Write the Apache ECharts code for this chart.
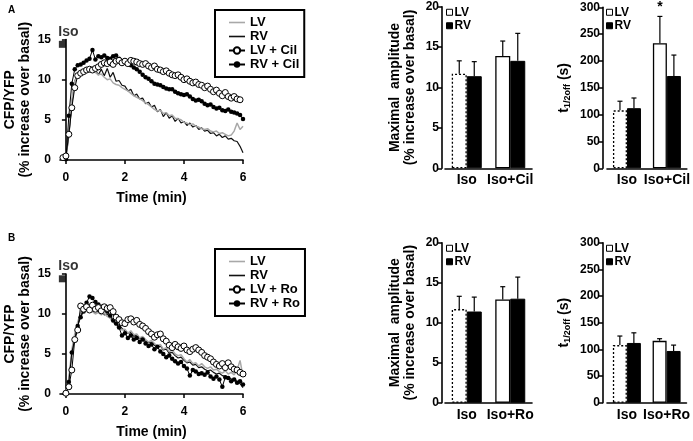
<!DOCTYPE html>
<html><head><meta charset="utf-8">
<script src="https://cdn.jsdelivr.net/npm/echarts@6/dist/echarts.min.js"></script>
<style>html,body{margin:0;padding:0;background:#fff}#c{width:693px;height:441px}</style>
</head><body><div id="c"></div><script>
// ---------- data ----------
const time = [-0.1,0,0.1,0.2,0.3,0.4,0.5,0.6,0.7,0.8,0.9,1.0,1.1,1.2,1.3,1.4,1.5,1.6,1.7,1.8,1.9,2.0,2.1,2.2,2.3,2.4,2.5,2.6,2.7,2.8,2.9,3.0,3.1,3.2,3.3,3.4,3.5,3.6,3.7,3.8,3.9,4.0,4.1,4.2,4.3,4.4,4.5,4.6,4.7,4.8,4.9,5.0,5.1,5.2,5.3,5.4,5.5,5.6,5.7,5.8,5.9,6.0];
const timeTicks = [0,2,4,6];
// Panel A
const aLV = [0.2,0.3,3.5,7.5,9.8,10.4,10.6,10.8,11.0,11.1,11.0,10.9,10.6,10.7,10.3,10.0,10.1,9.6,9.4,9.3,9.0,8.8,8.6,8.3,8.0,7.8,7.6,7.4,7.1,6.9,6.6,6.3,6.1,6.2,5.8,5.9,5.5,5.6,5.2,5.1,5.0,4.7,4.6,4.4,4.5,4.2,4.1,3.9,3.8,3.9,3.6,3.5,3.6,3.3,3.4,3.2,3.0,3.1,3.6,4.6,3.8,4.2];
const aRV = [0.2,0.2,3.0,7.0,9.8,10.8,11.0,11.2,11.1,11.3,10.9,11.2,10.6,11.3,10.5,11.4,10.3,10.9,9.8,9.9,9.3,9.2,8.6,8.8,8.0,8.2,7.6,7.7,7.0,7.2,6.6,6.8,6.0,6.3,5.4,5.9,5.2,5.5,4.8,5.2,4.6,4.8,4.3,4.6,4.1,4.3,3.8,4.0,3.6,3.7,3.3,3.4,3.0,3.2,2.8,3.0,2.6,2.7,2.4,2.3,1.7,0.9];
const aLVCil = [0.3,0.5,3.2,6.5,9.0,10.5,10.8,11.0,11.2,11.3,11.2,11.4,11.6,11.9,12.1,12.0,12.2,11.9,12.3,12.4,12.1,12.3,12.0,12.4,12.3,12.2,12.0,11.9,12.0,11.7,11.5,11.7,11.3,11.2,11.0,11.1,10.8,10.6,10.5,10.6,10.3,10.0,10.1,9.8,9.6,9.7,9.4,9.3,9.0,9.2,8.8,8.5,8.7,8.3,8.0,8.4,7.9,7.7,7.9,7.6,7.5,null];
const aRVCil = [null,0.1,5.5,9.5,11.3,11.8,11.9,12.1,12.4,12.6,13.7,12.5,12.9,12.8,13.0,12.7,12.6,12.9,13.0,12.6,12.3,12.4,12.0,11.8,11.5,11.3,11.0,10.6,10.3,10.1,9.8,9.5,9.4,9.3,9.1,8.9,8.8,8.8,8.5,8.3,8.2,8.1,8.2,7.9,7.6,7.4,7.5,7.3,7.0,6.8,6.9,6.6,6.4,6.5,6.2,6.1,6.3,6.0,5.9,5.8,5.6,5.1];
// Panel B
const bLV = [0.1,0.3,2.0,5.5,7.5,9.0,10.2,10.6,10.5,10.7,10.3,10.0,10.2,9.9,10.1,9.7,9.5,9.0,8.6,8.3,8.0,8.1,7.6,7.9,7.4,7.5,7.0,7.2,6.8,6.5,6.7,6.3,6.0,6.2,5.6,5.8,5.3,5.5,5.0,4.8,4.9,4.4,4.0,4.3,3.8,3.9,3.5,3.8,3.4,3.2,3.4,3.0,3.1,2.8,2.6,2.9,2.5,2.7,2.4,3.0,4.2,2.2];
const bRV = [0.1,0.2,1.8,5.0,7.2,8.8,9.8,10.5,10.9,11.0,10.8,10.6,10.3,10.4,9.9,10.0,9.5,9.2,8.8,8.6,8.2,7.9,7.6,7.7,7.2,7.4,6.9,7.0,6.6,6.4,6.5,6.1,5.8,6.0,5.5,5.6,5.1,5.2,4.8,4.5,4.6,4.2,3.9,4.0,3.6,3.7,3.3,3.4,3.1,2.9,3.0,2.7,2.5,2.6,2.3,2.2,2.1,1.9,1.8,1.6,1.3,0.8];
const bLVRo = [null,0.1,0.9,3.0,6.8,8.0,11.0,10.6,10.9,10.5,11.1,10.6,10.8,10.4,10.9,10.7,10.8,10.3,9.6,9.3,8.9,8.8,9.3,9.4,9.0,9.2,8.7,8.5,8.2,7.8,7.5,7.1,7.4,7.5,6.9,6.6,6.1,5.8,6.2,5.9,5.7,6.0,5.5,5.3,5.6,5.8,5.5,5.2,4.8,4.6,4.4,4.0,3.7,3.5,3.8,3.3,3.9,3.4,3.1,3.0,2.7,2.5];
const bRVRo = [null,null,1.5,5.2,6.8,8.5,9.6,10.3,11.4,12.2,12.0,11.5,11.2,10.9,10.6,10.3,9.8,9.2,8.8,8.3,7.3,7.6,7.0,7.3,6.8,7.0,6.5,6.8,6.3,6.0,6.2,5.6,5.9,5.3,5.0,4.6,4.8,4.4,4.1,3.8,4.0,3.5,3.2,2.3,3.0,2.8,2.5,2.6,2.4,2.7,2.2,1.9,2.2,1.8,0.9,2.1,2.0,1.6,1.8,1.4,1.6,1.2];
const isoMark = [-0.12, 14.4];
// Bars
const catsA = ['Iso','Iso+Cil'];
const catsB = ['Iso','Iso+Ro'];
const ampA_LV = [11.7,13.9], ampA_LVerr = [1.6,1.85];
const ampA_RV = [11.4,13.3], ampA_RVerr = [1.8,3.4];
const tA_LV = [108,233], tA_LVerr = [17,50];
const tA_RV = [112,172], tA_RVerr = [19,39];
const sigA = ['','*'];
const ampB_LV = [11.7,12.9], ampB_LVerr = [1.6,1.6];
const ampB_RV = [11.4,13.0], ampB_RVerr = [1.8,2.7];
const tB_LV = [108,116], tB_LVerr = [17,4];
const tB_RV = [112,97], tB_RVerr = [19,11];
const sigB = ['',''];

// ---------- helpers ----------
const FF = 'Liberation Sans, Arial, Helvetica, sans-serif';
const B = 'bold';
const pairs = (ys) => time.map((t,i)=>[t, ys[i]]);
const axisLineS = {show:true, lineStyle:{color:'#000', width:1.6}};
const tickS = {show:true, length:4, lineStyle:{color:'#000', width:1.5}};
const LINE_ICON = 'path://M0,0H16V1.6H0Z';

const chart = echarts.init(document.getElementById('c'), null, {renderer:'canvas'});

const grids = [
  {left:60, right:450, top:39.5, bottom:281},      // 0 line A
  {left:60, right:450, top:274, bottom:47},        // 1 line B
  {left:445, right:161, top:6.7, bottom:272.7},    // 2 amp A
  {left:607, right:6, top:7.3, bottom:272.7},      // 3 t A
  {left:445, right:161, top:242.7, bottom:38.3},   // 4 amp B
  {left:607, right:6, top:242.7, bottom:38.3}      // 5 t B
];

function lineX(gi){
  return {type:'value', gridIndex:gi, min:-0.2, max:6, offset:7,
    axisLine:axisLineS, axisTick:Object.assign({customValues:timeTicks}, tickS),
    axisLabel:{customValues:timeTicks, color:'#000', fontFamily:FF, fontWeight:B, fontSize:12, margin:5},
    splitLine:{show:false},
    name:'Time (min)', nameLocation:'middle', nameGap:24,
    nameTextStyle:{color:'#000', fontFamily:FF, fontWeight:B, fontSize:14}};
}
function lineY(gi){
  return {type:'value', gridIndex:gi, min:0, max:15, interval:5, offset:5,
    axisLine:axisLineS, axisTick:tickS,
    axisLabel:{color:'#000', fontFamily:FF, fontWeight:B, fontSize:12, margin:4},
    splitLine:{show:false},
    name:'CFP/YFP\n(% increase over basal)', nameLocation:'middle', nameRotate:90, nameGap:22,
    nameTextStyle:{color:'#000', fontFamily:FF, fontWeight:B, fontSize:14, lineHeight:15}};
}
function barX(gi, cats){
  return {type:'category', gridIndex:gi, data:cats,
    axisLine:axisLineS, axisTick:{show:false},
    axisLabel:{interval:0, hideOverlap:false, color:'#000', fontFamily:FF, fontWeight:B, fontSize:14, margin:5}};
}
function barY(gi, max, interval, offset, name, gap){
  return {type:'value', gridIndex:gi, min:0, max:max, interval:interval, offset:offset,
    axisLine:axisLineS, axisTick:tickS,
    axisLabel:{color:'#000', fontFamily:FF, fontWeight:B, fontSize:12, margin:3},
    splitLine:{show:false},
    name:name, nameLocation:'middle', nameRotate:90, nameGap:gap,
    nameTextStyle:{color:'#000', fontFamily:FF, fontWeight:B, fontSize:14, lineHeight:15,
      rich:{sub:{fontFamily:FF, fontWeight:B, fontSize:9, color:'#000', padding:[7,0,0,0]}}}};
}

function lineSeries(gi, prefix, d){
  const [lv, rv, lvd, rvd, dn] = d;
  return [
    {name:prefix+':RV', type:'line', xAxisIndex:gi, yAxisIndex:gi, data:pairs(rv), symbol:'none',
      lineStyle:{color:'#111', width:1.2}, itemStyle:{color:'#111'}, z:2},
    {name:prefix+':LV', type:'line', xAxisIndex:gi, yAxisIndex:gi, data:pairs(lv), symbol:'none',
      lineStyle:{color:'#a8a8a8', width:1.5}, itemStyle:{color:'#a8a8a8'}, z:3},
    {name:prefix+':RV + '+dn, type:'line', xAxisIndex:gi, yAxisIndex:gi, data:pairs(rvd), symbol:'circle', symbolSize:4.5,
      lineStyle:{color:'#000', width:1}, itemStyle:{color:'#000'}, z:4},
    {name:prefix+':LV + '+dn, type:'line', xAxisIndex:gi, yAxisIndex:gi, data:pairs(lvd), symbol:'circle', symbolSize:6,
      lineStyle:{color:'#000', width:1}, itemStyle:{color:'#fff', borderColor:'#000', borderWidth:1}, z:5},
    {name:prefix+':iso', type:'scatter', xAxisIndex:gi, yAxisIndex:gi, data:[isoMark], symbol:'rect', symbolSize:7,
      itemStyle:{color:'#000'}, z:6,
      label:{show:true, formatter:'Iso', position:'top', offset:[6,3], color:'#000', fontFamily:FF, fontWeight:B, fontSize:14}}
  ];
}

function barSeries(gi, prefix, lv, rv, bw){
  const lvData = lv.map((v,i)=> i===0 ? {value:v, itemStyle:{borderType:[2,2]}} : v);
  return [
    {name:prefix+':LV', type:'bar', xAxisIndex:gi, yAxisIndex:gi, data:lvData, barWidth:bw, barGap:'0%',
      itemStyle:{color:'#fff', borderColor:'#000', borderWidth:1.3}},
    {name:prefix+':RV', type:'bar', xAxisIndex:gi, yAxisIndex:gi, data:rv, barWidth:bw, barGap:'0%',
      itemStyle:{color:'#000', borderColor:'#000', borderWidth:1}}
  ];
}
function errSeries(gi, vals, errs, side, bw, sig){
  return {type:'custom', xAxisIndex:gi, yAxisIndex:gi, z:1, silent:true,
    data: vals.map((v,i)=>[i, v, errs[i]]),
    renderItem:(params, api)=>{
      const i = api.value(0), v = api.value(1), e = api.value(2);
      const p0 = api.coord([i, v]), p1 = api.coord([i, v+e]);
      const x = p0[0] + side*bw/2;
      const ch = [
        {type:'line', shape:{x1:x, y1:p0[1], x2:x, y2:p1[1]}, style:{stroke:'#000', lineWidth:1.2}},
        {type:'line', shape:{x1:x-2.5, y1:p1[1], x2:x+2.5, y2:p1[1]}, style:{stroke:'#000', lineWidth:1.2}}
      ];
      if (sig && sig[i]) ch.push({type:'text', style:{text:sig[i], x:x, y:p1[1]-2, align:'center', verticalAlign:'bottom',
        fill:'#000', font:'bold 14px '+FF}});
      return {type:'group', children:ch};
    }};
}

function lineLegend(prefix, dn, top){
  return {show:true, orient:'vertical', left:215, top:top,
    data:[{name:prefix+':LV', icon:LINE_ICON}, {name:prefix+':RV', icon:LINE_ICON}, prefix+':LV + '+dn, prefix+':RV + '+dn],
    formatter:(n)=>n.split(':')[1],
    itemWidth:16, itemHeight:8, itemGap:1, padding:[6,5,6,13],
    borderColor:'#000', borderWidth:2,
    textStyle:{color:'#000', fontFamily:FF, fontWeight:B, fontSize:13, lineHeight:12}};
}
function barLegend(prefix, left, top){
  return {show:true, orient:'vertical', left:left, top:top,
    data:[prefix+':LV', prefix+':RV'], formatter:(n)=>n.split(':')[1],
    icon:'rect', itemWidth:6, itemHeight:6, itemGap:1, padding:0,
    itemStyle:{borderWidth:1},
    textStyle:{color:'#000', fontFamily:FF, fontWeight:B, fontSize:12, lineHeight:12.5, padding:[0,0,0,-3]}};
}

const tName = 't{sub|1/2off} (s)';
const ampName = 'Maximal  amplitude\n(% increase over basal)';

const option = {
  animation:false,
  backgroundColor:'#fff',
  textStyle:{fontFamily:FF},
  grid:grids,
  xAxis:[lineX(0), lineX(1), barX(2,catsA), barX(3,catsA), barX(4,catsB), barX(5,catsB)],
  yAxis:[lineY(0), lineY(1),
    barY(2,20,5,3,ampName,24), barY(3,300,50,4,tName,31),
    barY(4,20,5,3,ampName,24), barY(5,300,50,4,tName,31)],
  legend:[lineLegend('A','Cil',10), lineLegend('B','Ro',249),
    barLegend('aA',446,6), barLegend('tA',606,6), barLegend('aB',446,242), barLegend('tB',606,242)],
  series:[].concat(
    lineSeries(0,'A',[aLV,aRV,aLVCil,aRVCil,'Cil']),
    lineSeries(1,'B',[bLV,bRV,bLVRo,bRVRo,'Ro']),
    barSeries(2,'aA',ampA_LV,ampA_RV,15),
    [errSeries(2,ampA_LV,ampA_LVerr,-1,15,null), errSeries(2,ampA_RV,ampA_RVerr,1,15,null)],
    barSeries(3,'tA',tA_LV,tA_RV,14),
    [errSeries(3,tA_LV,tA_LVerr,-1,14,sigA), errSeries(3,tA_RV,tA_RVerr,1,14,null)],
    barSeries(4,'aB',ampB_LV,ampB_RV,15),
    [errSeries(4,ampB_LV,ampB_LVerr,-1,15,null), errSeries(4,ampB_RV,ampB_RVerr,1,15,null)],
    barSeries(5,'tB',tB_LV,tB_RV,14),
    [errSeries(5,tB_LV,tB_LVerr,-1,14,sigB), errSeries(5,tB_RV,tB_RVerr,1,14,null)]
  ),
  graphic:[
    {type:'text', left:8, top:5, style:{text:'A', fill:'#000', font:'bold 10px '+FF}},
    {type:'text', left:8, top:233, style:{text:'B', fill:'#000', font:'bold 10px '+FF}}
  ]
};
chart.setOption(option);
</script></body></html>
